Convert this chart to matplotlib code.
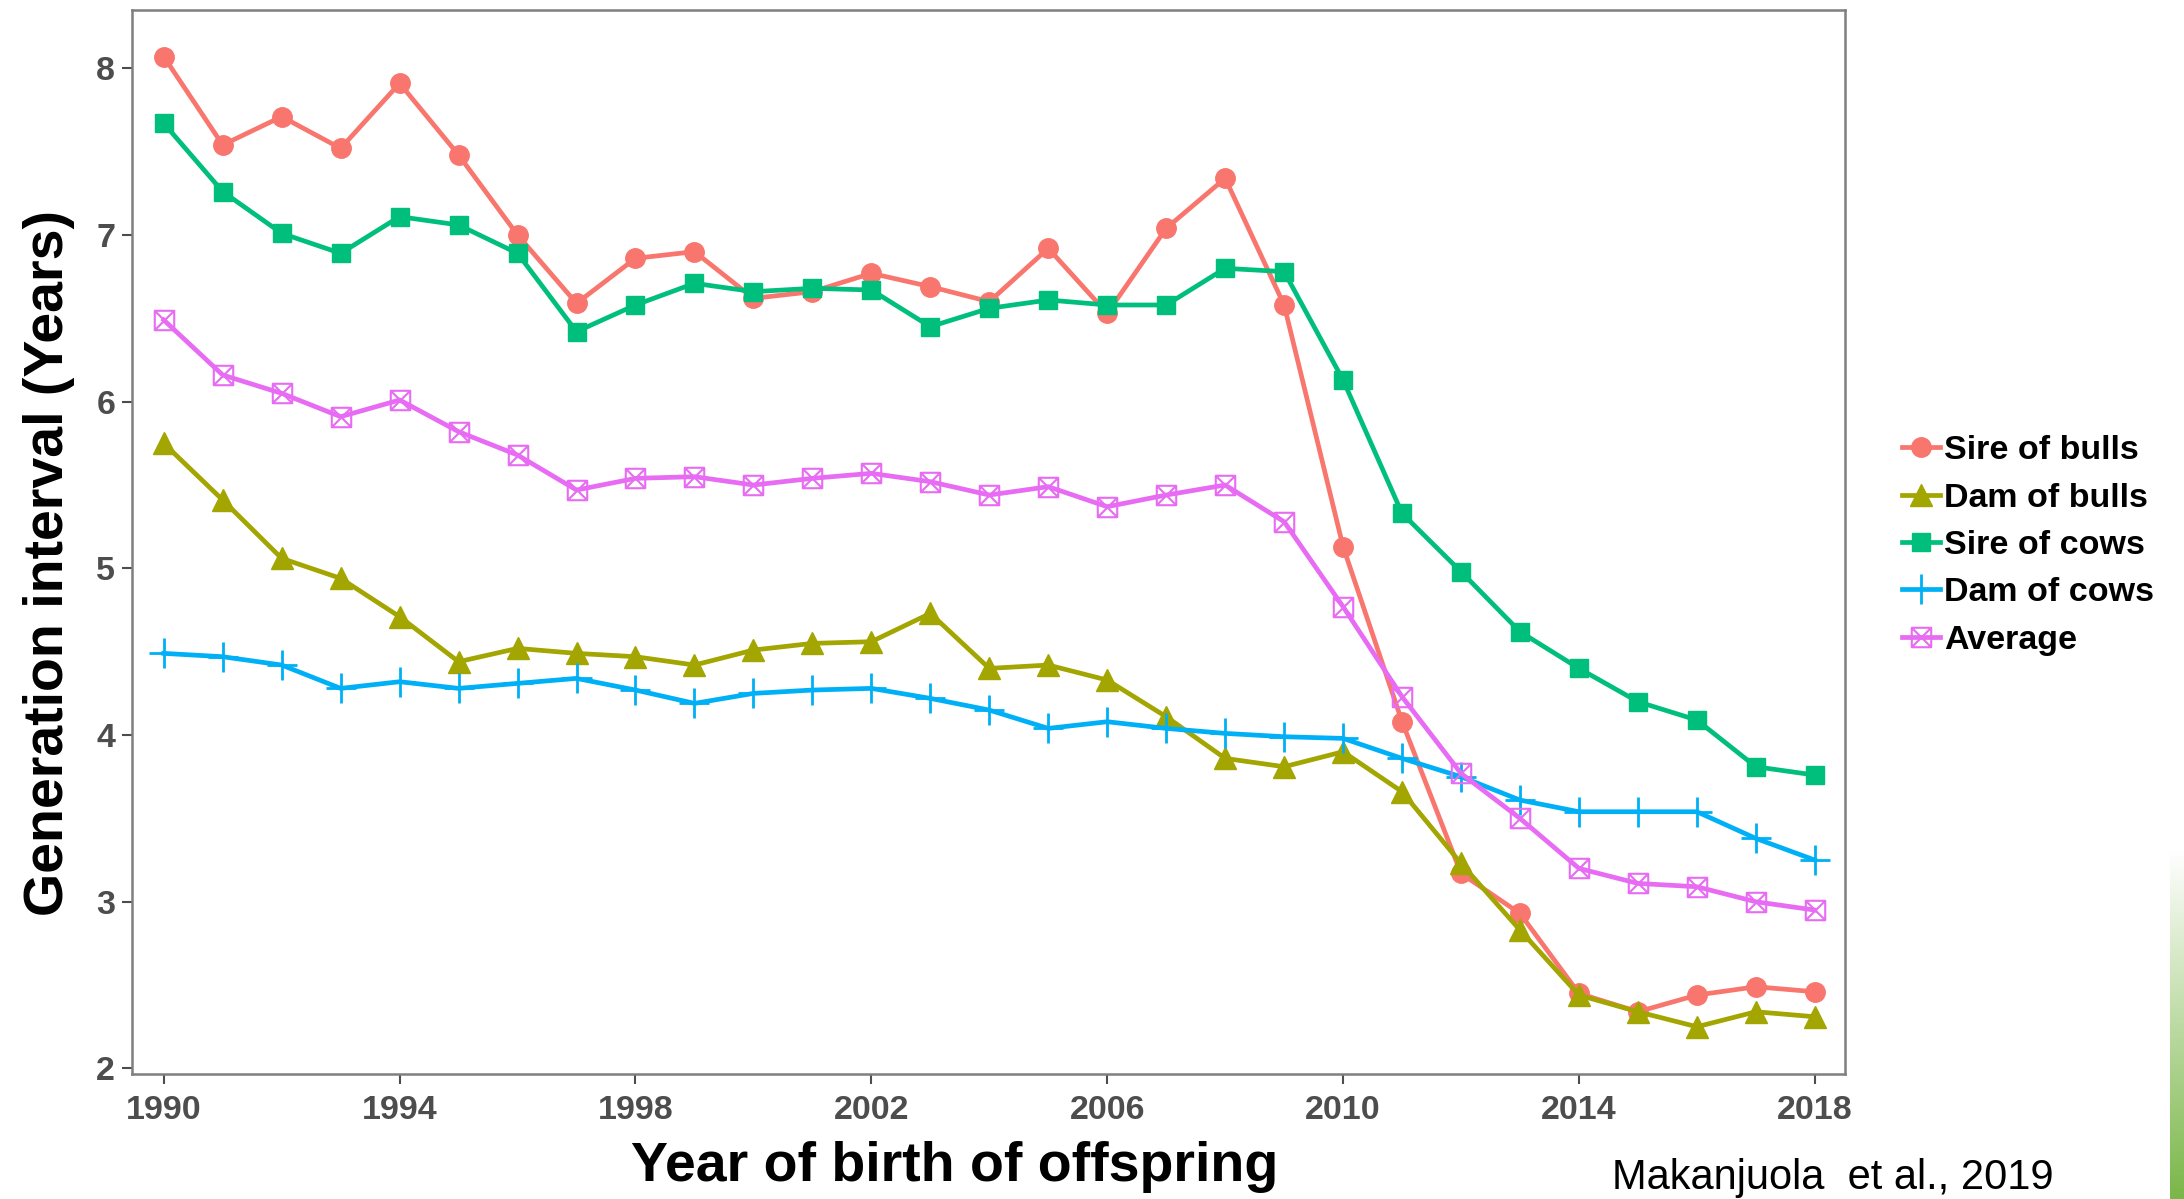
import matplotlib
matplotlib.use('Agg')
import matplotlib.pyplot as plt
import numpy as np
from matplotlib.path import Path

plt.rcParams['font.family'] = ['Liberation Sans', 'DejaVu Sans']

# Generation interval by year of birth of offspring
years = list(range(1990, 2019))

sire_of_bulls = [8.07, 7.54, 7.71, 7.52, 7.91, 7.48, 7.00, 6.59, 6.86, 6.90,
                 6.62, 6.66, 6.77, 6.69, 6.60, 6.92, 6.53, 7.04, 7.34, 6.58,
                 5.13, 4.08, 3.17, 2.93, 2.45, 2.34, 2.44, 2.49, 2.46]
dam_of_bulls = [5.75, 5.41, 5.06, 4.94, 4.71, 4.44, 4.52, 4.49, 4.47, 4.42,
                4.51, 4.55, 4.56, 4.73, 4.40, 4.42, 4.33, 4.11, 3.86, 3.81,
                3.90, 3.66, 3.23, 2.83, 2.44, 2.34, 2.25, 2.34, 2.31]
sire_of_cows = [7.67, 7.26, 7.01, 6.89, 7.11, 7.06, 6.89, 6.42, 6.58, 6.71,
                6.66, 6.68, 6.67, 6.45, 6.56, 6.61, 6.58, 6.58, 6.80, 6.78,
                6.13, 5.33, 4.98, 4.62, 4.40, 4.20, 4.09, 3.81, 3.76]
dam_of_cows = [4.49, 4.47, 4.42, 4.28, 4.32, 4.28, 4.31, 4.34, 4.27, 4.19,
               4.25, 4.27, 4.28, 4.22, 4.15, 4.04, 4.08, 4.04, 4.01, 3.99,
               3.98, 3.86, 3.75, 3.61, 3.54, 3.54, 3.54, 3.38, 3.25]
average = [6.49, 6.16, 6.05, 5.91, 6.01, 5.82, 5.68, 5.47, 5.54, 5.55,
           5.50, 5.54, 5.57, 5.52, 5.44, 5.49, 5.37, 5.44, 5.50, 5.28,
           4.77, 4.23, 3.77, 3.50, 3.20, 3.11, 3.09, 3.00, 2.95]

labels = ['Sire of bulls', 'Dam of bulls', 'Sire of cows', 'Dam of cows', 'Average']
colors = ['#F8766D', '#A3A500', '#00BF7D', '#00B0F6', '#E76BF3']
x_ticks = [1990, 1994, 1998, 2002, 2006, 2010, 2014, 2018]
y_ticks = [2, 3, 4, 5, 6, 7, 8]

# square with a cross inside (ggplot shape 7)
box_x = Path([(-1, -1), (1, -1), (1, 1), (-1, 1), (-1, -1),
              (-1, -1), (1, 1), (-1, 1), (1, -1)],
             [Path.MOVETO, Path.LINETO, Path.LINETO, Path.LINETO, Path.CLOSEPOLY,
              Path.MOVETO, Path.LINETO, Path.MOVETO, Path.LINETO])

fig = plt.figure(figsize=(21.84, 11.99), dpi=100)
ax = fig.add_axes([0.0604, 0.1043, 0.7846, 0.8874])

series = [sire_of_bulls, dam_of_bulls, sire_of_cows, dam_of_cows, average]
styles = [
    dict(marker='o', markersize=14),
    dict(marker='^', markersize=16),
    dict(marker='s', markersize=13.5),
    dict(marker='+', markersize=22, markeredgewidth=2),
    dict(marker=box_x, markersize=14, markerfacecolor='none', markeredgewidth=1.5),
]
for vals, lab, col, st in zip(series, labels, colors, styles):
    ax.plot(years, vals, color=col, linewidth=3.4, label=lab, **st)

ax.set_xlim(1989.46, 2018.52)
ax.set_ylim(1.967, 8.35)
ax.set_xticks(x_ticks)
ax.set_yticks(y_ticks)
ax.tick_params(axis='both', colors='#4d4d4d', labelsize=24.5, length=7, width=1.5)
ax.tick_params(axis='x', pad=8)
ax.tick_params(axis='y', pad=5)
for lbl in ax.get_xticklabels() + ax.get_yticklabels():
    lbl.set_fontweight('bold')
for sp in ax.spines.values():
    sp.set_color('#7f7f7f')
    sp.set_linewidth(1.8)

ax.set_xlabel('Year of birth of offspring', fontsize=40, fontweight='bold')
ax.set_ylabel('Generation interval (Years)', fontsize=40, fontweight='bold')
ax.xaxis.label.set_va('center')
ax.yaxis.label.set_va('center')
ax.xaxis.set_label_coords(0.48, -0.087)
ax.yaxis.set_label_coords(-0.0486, 0.48)

leg = ax.legend(loc='center left', bbox_to_anchor=(0.871, 0.545), bbox_transform=fig.transFigure,
                frameon=False, fontsize=24.5, handlelength=1.1, handletextpad=0.12,
                labelspacing=0.48, borderpad=0, borderaxespad=0)
for t in leg.get_texts():
    t.set_fontweight('bold')

fig.text(0.738, 0.0175, 'Makanjuola  et al., 2019', fontsize=30, ha='left', va='center')

# green gradient strip at the right edge (slide decoration)
deco = fig.add_axes([0.9936, 0.0, 0.0064, 0.29])
grad = np.linspace(0, 1, 256).reshape(-1, 1)
deco.imshow(grad, aspect='auto', cmap=matplotlib.colors.LinearSegmentedColormap.from_list(
    'g', ['#7ab648', '#ffffff']), origin='lower')
deco.axis('off')

fig.savefig('out.png', dpi=100)
